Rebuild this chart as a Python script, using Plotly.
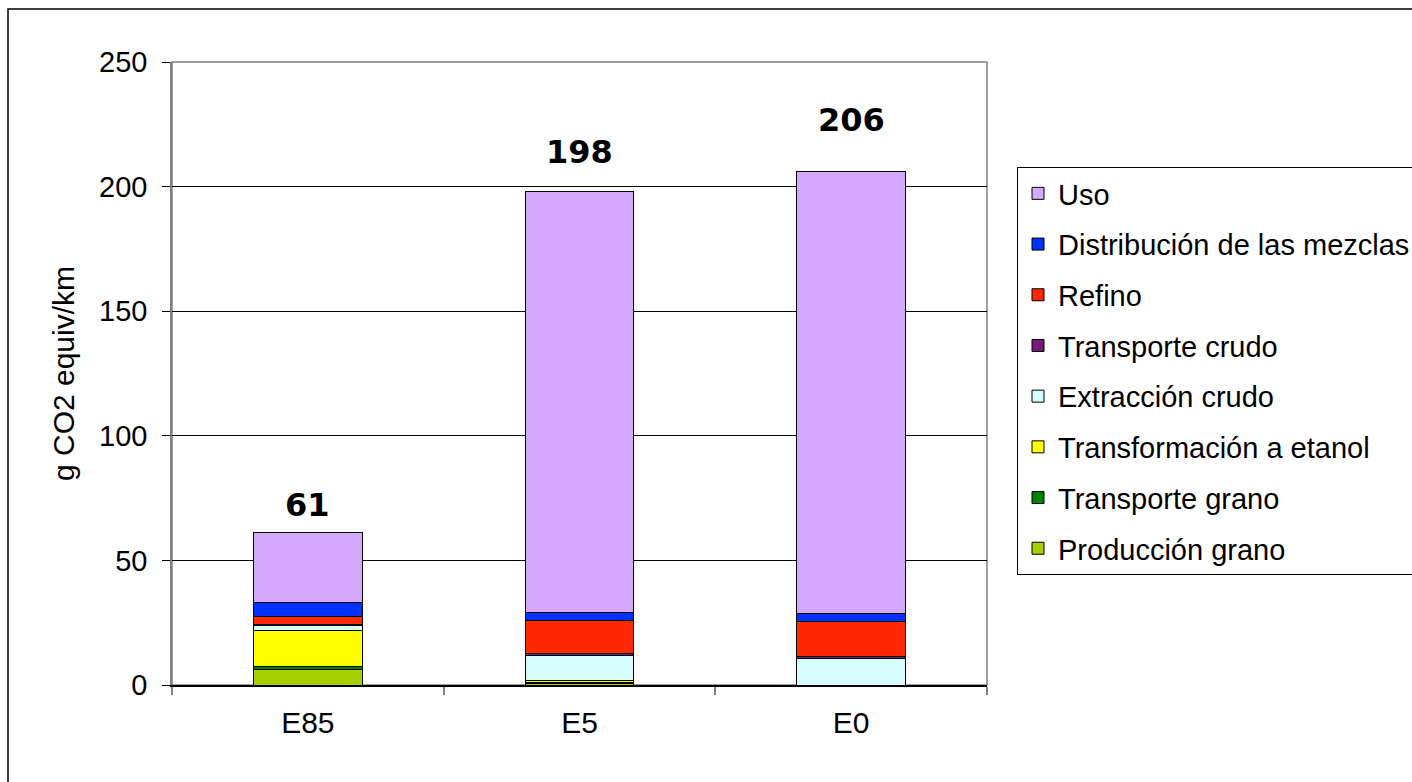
import plotly.graph_objects as go

# Emisiones por etapa del ciclo de vida (g CO2 equiv/km)
categorias = ["E85", "E5", "E0"]

produccion_grano = [6.3, 0.8, 0.0]
transporte_grano = [1.0, 0.1, 0.0]
transformacion_etanol = [14.5, 0.8, 0.0]
extraccion_crudo = [2.2, 10.3, 10.8]
transporte_crudo = [0.2, 0.7, 0.5]
refino = [3.3, 13.3, 14.0]
distribucion_mezclas = [5.6, 3.2, 3.4]
uso = [27.9, 168.8, 177.3]

series = [
    ("Producción grano", produccion_grano, "#A8D000"),
    ("Transporte grano", transporte_grano, "#008000"),
    ("Transformación a etanol", transformacion_etanol, "#FFFF00"),
    ("Extracción crudo", extraccion_crudo, "#D4FCFC"),
    ("Transporte crudo", transporte_crudo, "#741C7C"),
    ("Refino", refino, "#FF2800"),
    ("Distribución de las mezclas", distribucion_mezclas, "#0032FF"),
    ("Uso", uso, "#D4A8FC"),
]

totales = [sum(v[i] for _, v, _ in series) for i in range(len(categorias))]

# desplazamiento vertical (px) de cada etiqueta de total
desplazamiento_etiqueta = [28, 40, 52]

fig = go.Figure()
n = len(series)
for i, (nombre, valores, color) in enumerate(series):
    fig.add_trace(go.Bar(
        x=categorias, y=valores, name=nombre,
        marker=dict(color=color, line=dict(color="#000000", width=1)),
        width=0.4, legendgroup=str(i), legendrank=n - i,
    ))

for cat, tot, dy in zip(categorias, totales, desplazamiento_etiqueta):
    fig.add_annotation(
        x=cat, y=tot, text=f"<b>{tot:.0f}</b>", showarrow=False,
        yshift=dy, yanchor="middle",
        font=dict(family="DejaVu Sans", size=32, color="#000000"),
    )

# borde del gráfico completo
fig.add_shape(type="rect", xref="paper", yref="paper",
              x0=-164 / 815, x1=1.6, y0=-1.2, y1=(685 - 9) / 623,
              line=dict(color="#000000", width=1.5), layer="below")
# borde del área de trazado
fig.add_shape(type="rect", xref="paper", yref="paper",
              x0=0, x1=1, y0=0, y1=1,
              line=dict(color="#808080", width=1.5), layer="below")

fig.update_layout(
    width=1412, height=782,
    margin=dict(l=172, r=425, t=62, b=97, autoexpand=False),
    paper_bgcolor="white", plot_bgcolor="white",
    barmode="stack", bargap=0.6,
    font=dict(family="Liberation Sans, Arial, sans-serif", color="#000000"),
    legend=dict(
        x=(1017 - 172) / 815, y=(685 - 167) / 623, xanchor="left", yanchor="top",
        traceorder="grouped", tracegroupgap=10,
        bordercolor="#000000", borderwidth=1, bgcolor="white",
        font=dict(size=29, family="Liberation Sans, Arial, sans-serif"),
        itemwidth=30,
    ),
    xaxis=dict(
        type="category", showline=True, linecolor="#000000", linewidth=1.5,
        ticks="outside", tickson="boundaries", ticklen=8, tickcolor="#808080",
        tickwidth=1.5, tickfont=dict(size=30), showgrid=False,
        ticklabelstandoff=10,
    ),
    yaxis=dict(
        range=[0, 250], dtick=50, showline=True, linecolor="#808080", linewidth=1.5,
        ticks="outside", ticklen=8, tickcolor="#000000", tickwidth=1,
        tickfont=dict(size=29), gridcolor="#000000", gridwidth=1,
        ticklabelstandoff=9,
        title=dict(text="g CO2 equiv/km", font=dict(size=30), standoff=16),
        zeroline=False,
    ),
)

fig.write_html("out.html")
